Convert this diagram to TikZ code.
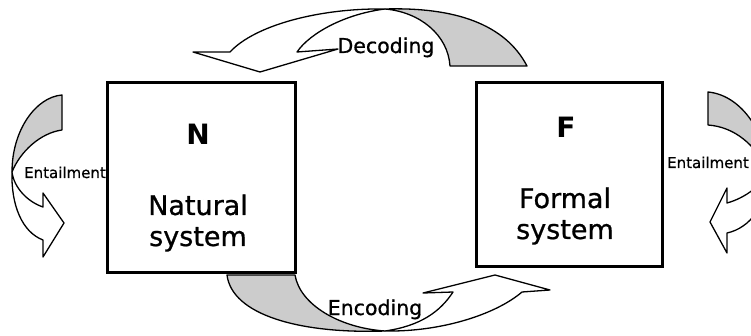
\documentclass[tikz,border=0pt]{standalone}
\usepackage{fontspec}
\setmainfont{DejaVu Sans}
\newfontfamily\heavysans{DejaVu Sans}[FakeBold=0.8]
\usetikzlibrary{positioning}

\begin{document}
\begin{tikzpicture}[x=1pt,y=-1pt,
    sysbox/.style={draw,line width=3pt,inner sep=0pt},
    backside/.style={fill=black!20,draw=black,line width=1.3pt,line join=round},
    frontside/.style={fill=white,draw=black,line width=1.3pt,line join=round},
    letter/.style={font=\fontsize{28}{32}\selectfont\bfseries,anchor=base},
    biglbl/.style={font=\heavysans\fontsize{27}{31}\selectfont,anchor=base},
    arrlbl/.style={font=\heavysans\fontsize{20.5}{24}\selectfont,anchor=base,inner sep=0pt},
    smalllbl/.style={font=\heavysans\fontsize{15}{18}\selectfont,anchor=base,inner sep=0pt}]

    \clip (0,0) rectangle (751,336);

    % the two systems
    \node[sysbox,minimum width=188pt,minimum height=189pt] (natbox) at (201,177.5) {};
    \node[sysbox,minimum width=186pt,minimum height=184pt] (formbox) at (569,175) {};

    \node[letter] (nlet) at (198,145) {N};
    \node[biglbl] (nat1) at (198,215) {Natural};
    \node[biglbl] (nat2) at (198,246) {system};

    \node[letter] (flet) at (566,138) {F};
    \node[biglbl] (form1) at (565,208) {Formal};
    \node[biglbl] (form2) at (565,239) {system};

    % decoding, F back to N
    \draw[backside] (527,66) .. controls (505,24) and (455,7) .. (385,9)
        .. controls (420,12) and (448,35) .. (450,66) -- cycle;
    \draw[frontside] (230,52) .. controls (255,25) and (320,8) .. (385,9)
        .. controls (345,14) and (310,33) .. (297,52)
        -- (338,49) -- (260,72) -- (193,52) -- cycle;
    \node[arrlbl] (dec) at (386,53) {Decoding};

    % encoding, N to F
    \draw[backside] (227,275) -- (295,275) .. controls (300,305) and (340,328) .. (385,331)
        .. controls (300,334) and (232,315) .. (227,275) -- cycle;
    \draw[frontside] (385,331) .. controls (440,332) and (495,315) .. (522,292)
        -- (550,290) -- (495,275) -- (423,293) -- (453,292)
        .. controls (440,312) and (420,326) .. (385,331) -- cycle;
    \node[arrlbl] (enc) at (375,315) {Encoding};

    % entailment in N
    \draw[backside] (62,95) -- (62,130) .. controls (40,133) and (20,152) .. (12,172)
        .. controls (12,130) and (36,97) .. (62,95) -- cycle;
    \draw[frontside] (12,172) .. controls (11,205) and (22,232) .. (43,240)
        -- (43,257) -- (64,223) -- (43,193) -- (43,207)
        .. controls (28,202) and (14,188) .. (12,172) -- cycle;
    \node[smalllbl] (entl) at (65,178) {Entailment};

    % entailment in F
    \draw[backside] (708,92) -- (708,125) .. controls (735,127) and (755,145) .. (768,170)
        .. controls (765,130) and (740,95) .. (708,92) -- cycle;
    \draw[frontside] (768,170) .. controls (768,205) and (750,228) .. (727,233)
        -- (727,253) -- (710,222) -- (727,188) -- (727,203)
        .. controls (745,198) and (763,185) .. (768,170) -- cycle;
    \node[smalllbl] (entr) at (708,168) {Entailment};

\end{tikzpicture}
\end{document}
